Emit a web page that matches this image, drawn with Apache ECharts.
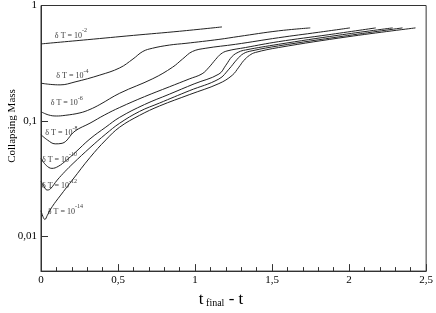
<!DOCTYPE html>
<html><head><meta charset="utf-8">
<script src="https://cdn.jsdelivr.net/npm/echarts@6/dist/echarts.min.js"></script>
<style>html,body{margin:0;padding:0;background:#fff}#c{width:436px;height:313px}</style>
</head><body><div id="c"></div>
<script>
const FONT = 'Liberation Serif';

// Curves (x = t_final - t, y = collapsing mass)
const c1x = [0, 0.30, 0.60, 0.90, 1.175];
const c1y = [0.4648, 0.5055, 0.5510, 0.5984, 0.6522];

const c2x = [0, 0.06, 0.124, 0.221, 0.382, 0.511, 0.597, 0.661, 0.724, 0.833, 0.941, 1.155, 1.284, 1.542, 1.748];
const c2y = [0.2122, 0.2073, 0.2053, 0.2177, 0.2496, 0.2881, 0.3438, 0.3996, 0.4264, 0.4540, 0.4703, 0.5085, 0.5393, 0.6032, 0.6397];

const c3x = [0, 0.047, 0.099, 0.157, 0.253, 0.318, 0.382, 0.511, 0.726, 0.854, 0.919, 0.983, 1.070, 1.263, 1.542, 1.800, 2.006];
const c3y = [0.1202, 0.1129, 0.1103, 0.1118, 0.1174, 0.1258, 0.1387, 0.1738, 0.2323, 0.2920, 0.3438, 0.3996, 0.4264, 0.4611, 0.5258, 0.5856, 0.6397];

const c4x = [0, 0.041, 0.092, 0.137, 0.221, 0.318, 0.414, 0.511, 0.672, 0.833, 0.962, 1.046, 1.091, 1.134, 1.168, 1.207, 1.327, 1.542, 1.864, 2.173];
const c4y = [0.0760, 0.0685, 0.0633, 0.0640, 0.0817, 0.0956, 0.1129, 0.1308, 0.1623, 0.1974, 0.2309, 0.2562, 0.2920, 0.3417, 0.3805, 0.4036, 0.4323, 0.4862, 0.5577, 0.6397];

const c5x = [0, 0.034, 0.071, 0.112, 0.163, 0.221, 0.318, 0.421, 0.511, 0.672, 0.833, 0.994, 1.155, 1.200, 1.241, 1.284, 1.327, 1.542, 1.929, 2.283];
const c5y = [0.0472, 0.0412, 0.0388, 0.0404, 0.0454, 0.0531, 0.0699, 0.0884, 0.1075, 0.1387, 0.1704, 0.2094, 0.2547, 0.3038, 0.3624, 0.3957, 0.4117, 0.4611, 0.5522, 0.6397];

const c6x = [0, 0.021, 0.039, 0.060, 0.105, 0.157, 0.208, 0.318, 0.421, 0.511, 0.640, 0.769, 0.962, 1.155, 1.220, 1.273, 1.316, 1.370, 1.542, 1.961, 2.347];
const c6y = [0.0301, 0.0268, 0.0252, 0.0257, 0.0307, 0.0366, 0.0428, 0.0586, 0.0771, 0.0956, 0.1209, 0.1428, 0.1825, 0.2309, 0.2808, 0.3417, 0.3843, 0.4052, 0.4469, 0.5415, 0.6397];

const c7x = [0, 0.012, 0.025, 0.041, 0.073, 0.124, 0.208, 0.318, 0.421, 0.511, 0.640, 0.769, 0.962, 1.155, 1.241, 1.284, 1.316, 1.353, 1.392, 1.542, 1.993, 2.431];
const c7y = [0.0167, 0.0149, 0.0140, 0.0152, 0.0181, 0.0224, 0.0313, 0.0482, 0.0685, 0.0884, 0.1118, 0.1347, 0.1687, 0.2106, 0.2483, 0.2920, 0.3331, 0.3696, 0.3919, 0.4323, 0.5362, 0.6397];

// Curve annotations
const labelExp = ['-2', '-4', '-6', '-8', '-10', '-12', '-14'];
const labelX = [0.090, 0.099, 0.063, 0.028, 0.006, 0.006, 0.044];
const labelY = [0.569, 0.255, 0.148, 0.0817, 0.0482, 0.0284, 0.0170];

// Tick labels
const xTickValues = [0, 0.5, 1, 1.5, 2, 2.5];
const xTickLabels = ['0', '0,5', '1', '1,5', '2', '2,5'];
const yTickValues = [0.01, 0.1, 1];
const yTickLabels = ['0,01', '0,1', '1'];

const curvesX = [c1x, c2x, c3x, c4x, c5x, c6x, c7x];
const curvesY = [c1y, c2y, c3y, c4y, c5y, c6y, c7y];

const series = curvesX.map((xs, i) => ({
  type: 'line',
  data: xs.map((x, j) => [x, curvesY[i][j]]),
  showSymbol: false,
  smooth: 0.4,
  lineStyle: { color: '#222', width: 1 },
  silent: true
}));

series.push({
  type: 'scatter',
  symbolSize: 0,
  silent: true,
  data: labelX.map((x, i) => [x, labelY[i]]),
  label: {
    show: true,
    position: 'right',
    distance: 0,
    fontFamily: FONT,
    formatter: p => '{a|δ T = 10}{b|' + labelExp[p.dataIndex] + '}',
    rich: {
      a: { fontFamily: FONT, fontSize: 8, color: '#000', lineHeight: 12, verticalAlign: 'bottom' },
      b: { fontFamily: FONT, fontSize: 6, color: '#000', lineHeight: 12, verticalAlign: 'top' }
    }
  }
});

const chart = echarts.init(document.getElementById('c'), null, { renderer: 'canvas' });
chart.setOption({
  animation: false,
  backgroundColor: '#fff',
  textStyle: { fontFamily: FONT },
  grid: { left: 41, right: 7, top: 5, bottom: 37, show: true, borderColor: '#333', borderWidth: 1, backgroundColor: 'transparent' },
  xAxis: {
    type: 'value', min: 0, max: 2.5, interval: 0.5,
    axisLine: { lineStyle: { color: '#333', width: 1 } },
    axisTick: { inside: true, length: 7, lineStyle: { color: '#333' } },
    minorTick: { show: true, splitNumber: 5, length: 4, lineStyle: { color: '#333' } },
    splitLine: { show: false },
    axisLabel: {
      fontFamily: FONT, fontSize: 11, color: '#000', margin: 4,
      formatter: v => {
        let k = 0; xTickValues.forEach((t, i) => { if (Math.abs(t - v) < 1e-6) k = i; });
        return xTickLabels[k];
      }
    },
    name: '{t|t}{s| final}{t| - t}',
    nameLocation: 'middle',
    nameGap: 15,
    nameTextStyle: {
      fontFamily: FONT,
      fontSize: 16,
      color: '#000',
      padding: [0, 25, 0, 0],
      rich: {
        t: { fontFamily: FONT, fontSize: 17, color: '#000', lineHeight: 18, verticalAlign: 'bottom' },
        s: { fontFamily: FONT, fontSize: 10, color: '#000', lineHeight: 16, verticalAlign: 'bottom' }
      }
    }
  },
  yAxis: {
    type: 'log', logBase: 10, min: 0.005, max: 1,
    axisLine: { lineStyle: { color: '#333', width: 1 } },
    axisTick: { inside: true, length: 7, lineStyle: { color: '#333' } },
    minorTick: { show: false },
    splitLine: { show: false },
    axisLabel: {
      fontFamily: FONT, fontSize: 11, color: '#000', margin: 4, showMinLabel: false,
      formatter: v => {
        let k = -1; yTickValues.forEach((t, i) => { if (Math.abs(Math.log10(t) - Math.log10(v)) < 1e-3) k = i; });
        return k >= 0 ? yTickLabels[k] : '';
      }
    }
  },
  graphic: [{
    type: 'text', x: 12, y: 126, rotation: Math.PI / 2,
    style: { text: 'Collapsing Mass', fontFamily: FONT, fontSize: 11, fill: '#000', align: 'center', verticalAlign: 'middle' }
  }],
  series: series
});
</script>
</body></html>
